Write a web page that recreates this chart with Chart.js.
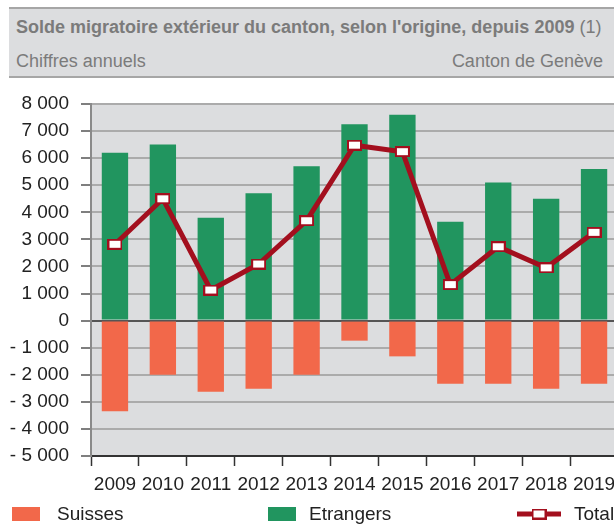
<!DOCTYPE html>
<html lang="fr">
<head>
<meta charset="utf-8">
<title>Solde migratoire extérieur du canton</title>
<script src="https://cdn.jsdelivr.net/npm/chart.js@4.4.0/dist/chart.umd.min.js"></script>
<style>
  html, body { margin: 0; padding: 0; background: #fff; overflow: hidden; }
  #cadre { position: relative; width: 614px; height: 524px; overflow: hidden; font-family: "Liberation Sans", Arial, sans-serif; }
  #graphique { position: absolute; left: 0; top: 0; }
  #entete { position: absolute; left: 9px; top: 7px; width: 640px; height: 67px; background: #dcdddf;
            border-top: 2px solid #a6a6a6; border-bottom: 2px solid #a6a6a6; color: #7b7b7b; }
  #titre { position: absolute; left: 7px; top: 8px; font-size: 18px; font-weight: bold; white-space: nowrap; }
  #titre span { font-weight: normal; }
  #sousTitre { position: absolute; left: 7px; top: 42px; font-size: 18px; }
  #lieu { position: absolute; right: 11px; top: 51px; font-size: 18px; color: #7b7b7b; }
</style>
</head>
<body>
<div id="cadre">
  <canvas id="graphique" width="640" height="524"></canvas>
  <div id="entete">
    <div id="titre">Solde migratoire extérieur du canton, selon l'origine, depuis 2009 <span>(1)</span></div>
    <div id="sousTitre">Chiffres annuels</div>
  </div>
  <div id="lieu">Canton de Genève</div>
</div>
<script>
// donnees
var annees = ['2009', '2010', '2011', '2012', '2013', '2014', '2015', '2016', '2017', '2018', '2019'];
var suisses = [-3350, -2000, -2630, -2520, -2000, -740, -1320, -2330, -2330, -2520, -2330];
var etrangers = [6200, 6500, 3800, 4700, 5700, 7250, 7600, 3650, 5100, 4500, 5600];
var total = [2820, 4500, 1130, 2090, 3690, 6480, 6240, 1330, 2730, 1950, 3260];

// axe y
var yMin = -5000;
var yMax = 8000;
var yPas = 1000;

// couleurs
var orange = '#f2684a';
var vert = '#21955f';
var rouge = '#a30f1e';

// petit rectangle blanc pour les points de la courbe
var carre = document.createElement('canvas');
carre.width = 15;
carre.height = 11;
var cc = carre.getContext('2d');
cc.fillStyle = '#fff';
cc.fillRect(1, 1, 13, 9);
cc.strokeStyle = rouge;
cc.lineWidth = 2;
cc.strokeRect(1, 1, 13, 9);

// format "8 000", "- 1 000"
function formatNombre(v) {
    var s = String(Math.abs(v)).replace(/\B(?=(\d{3})+(?!\d))/g, ' ');
    return v < 0 ? '- ' + s : s;
}

// fond gris de la zone du graphique
var fondGris = {
    id: 'fondGris',
    beforeDraw: function (chart) {
        var a = chart.chartArea;
        var c = chart.ctx;
        c.save();
        c.fillStyle = '#dcdddf';
        c.fillRect(a.left, a.top, a.right - a.left, a.bottom - a.top);
        c.restore();
    }
};

// legende en bas, sur une seule ligne
var legendeBas = {
    id: 'legendeBas',
    afterDraw: function (chart) {
        var c = chart.ctx;
        var posX = [12, 268, 517];
        var posTexte = [57, 309, 574];
        var y = 514;
        c.save();
        c.font = '19px "Liberation Sans", Arial, sans-serif';
        c.textBaseline = 'middle';
        // Suisses, Etrangers, Total
        var ds = [chart.data.datasets[1], chart.data.datasets[2], chart.data.datasets[0]];
        for (var i = 0; i < ds.length; i++) {
            var x = posX[i];
            if (ds[i].type === 'line') {
                c.strokeStyle = ds[i].borderColor;
                c.lineWidth = 5;
                c.beginPath();
                c.moveTo(x, y);
                c.lineTo(x + 44, y);
                c.stroke();
                c.drawImage(carre, x + 22 - carre.width / 2, y - carre.height / 2);
            } else {
                c.fillStyle = ds[i].backgroundColor;
                c.fillRect(x, y - 7, 28, 14);
            }
            c.fillStyle = '#222';
            c.fillText(ds[i].label, posTexte[i], y + 1);
        }
        c.restore();
    }
};

Chart.defaults.font.family = '"Liberation Sans", Arial, sans-serif';
Chart.defaults.font.size = 19;
Chart.defaults.color = '#222';

var ctx = document.getElementById('graphique');

var config = {
    type: 'bar',
    data: {
        labels: annees,
        datasets: [{
            type: 'line',
            label: 'Total',
            data: total,
            borderColor: rouge,
            borderWidth: 5,
            pointStyle: carre,
            pointRadius: 7,
            tension: 0,
            fill: false,
            order: 0
        }, {
            label: 'Suisses',
            data: suisses,
            backgroundColor: orange,
            order: 1
        }, {
            label: 'Etrangers',
            data: etrangers,
            backgroundColor: vert,
            order: 1
        }]
    },
    options: {
        responsive: false,
        animation: false,
        events: [],
        grouped: false,
        categoryPercentage: 1,
        barPercentage: 0.55,
        layout: { padding: { top: 104, right: 22, bottom: 30, left: 0 } },
        plugins: {
            legend: { display: false },
            tooltip: { enabled: false }
        },
        scales: {
            x: {
                offset: true,
                grid: {
                    offset: true,
                    drawOnChartArea: false,
                    drawTicks: true,
                    tickLength: 10,
                    tickColor: '#333',
                    tickWidth: 1.5
                },
                border: { color: '#333', width: 2 },
                ticks: { padding: 7, maxRotation: 0, autoSkip: false },
                afterFit: function (s) { s.height = 38; }
            },
            y: {
                min: yMin,
                max: yMax,
                grid: {
                    color: function (c) { return c.tick && c.tick.value === 0 ? '#555' : '#ababab'; },
                    lineWidth: 2,
                    tickLength: 10,
                    tickColor: '#555',
                    tickWidth: 1.5
                },
                border: { color: '#8a8a8a', width: 2 },
                ticks: {
                    stepSize: yPas,
                    padding: 12,
                    callback: function (v) { return formatNombre(v); }
                },
                afterFit: function (s) { s.width = 91; }
            }
        }
    },
    plugins: [fondGris, legendeBas]
};

var chart = new Chart(ctx, config);
</script>
</body>
</html>
